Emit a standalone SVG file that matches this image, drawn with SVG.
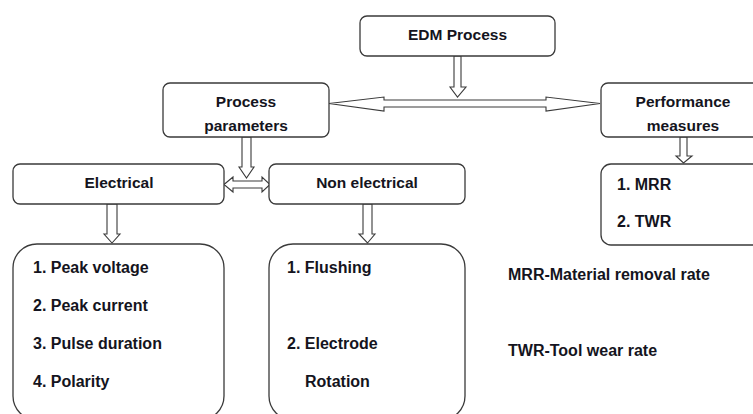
<svg xmlns="http://www.w3.org/2000/svg" width="753" height="414" viewBox="0 0 753 414">
<style>
.box{fill:#fff;stroke:#3a3a3a;stroke-width:1.3}
.arr{fill:#fff;stroke:#3a3a3a;stroke-width:1.1;stroke-linejoin:miter}
.t{font-family:"Liberation Sans",Arial,sans-serif;font-weight:bold;font-size:15.5px;fill:#141420}
.c{text-anchor:middle}
.i{font-family:"Liberation Sans",Arial,sans-serif;font-weight:bold;font-size:16px;fill:#141420}
</style>
<rect width="753" height="414" fill="#fff"/>
<g id="connectors">
<path class="arr" d="M454,56 L461,56 L461,87 L466,87 L457.5,97 L450,87 L454,87 Z"/>
<path class="arr" d="M329,103.5 L384,97 L384,100 L546,100 L546,97 L600,103.5 L546,111 L546,107 L384,107 L384,111 Z"/>
<path class="arr" d="M680,137 L687,137 L687,156 L692,156 L683.5,163 L676,156 L680,156 Z"/>
<path class="arr" d="M242,137 L251,137 L251,167 L254,167 L246.5,178 L239,167 L242,167 Z"/>
<path class="arr" d="M224,184.5 L233,177 L233,181 L262,181 L262,177 L270,184.5 L262,192 L262,188 L233,188 L233,192 Z"/>
<path class="arr" d="M107,204 L117,204 L117,234 L120,234 L112,243 L104,234 L107,234 Z"/>
<path class="arr" d="M363,204 L372,204 L372,234 L375,234 L367.5,243 L359,234 L363,234 Z"/>
</g>
<g id="edm">
<rect class="box" x="360" y="16" width="195" height="40" rx="7"/>
<text class="t c" x="457.5" y="40">EDM Process</text>
</g>
<g id="process-parameters">
<rect class="box" x="163" y="83" width="166" height="54" rx="7"/>
<text class="t c" x="246" y="107">Process</text>
<text class="t c" x="246" y="131">parameters</text>
</g>
<g id="performance-measures">
<rect class="box" x="601" y="83" width="170" height="54" rx="7"/>
<text class="t c" x="683" y="107">Performance</text>
<text class="t c" x="683" y="131">measures</text>
</g>
<g id="measures-list">
<rect class="box" x="601" y="164" width="170" height="81" rx="10"/>
<text class="i" x="617" y="190">1. MRR</text>
<text class="i" x="617" y="227">2. TWR</text>
</g>
<g id="electrical">
<rect class="box" x="13" y="164" width="211" height="40" rx="7"/>
<text class="t c" x="119" y="188">Electrical</text>
</g>
<g id="non-electrical">
<rect class="box" x="269" y="164" width="196" height="40" rx="7"/>
<text class="t c" x="367" y="188">Non electrical</text>
</g>
<g id="electrical-list">
<rect class="box" x="13" y="244" width="211" height="176" rx="24"/>
<text class="i" x="33" y="273">1. Peak voltage</text>
<text class="i" x="33" y="311">2. Peak current</text>
<text class="i" x="33" y="349">3. Pulse duration</text>
<text class="i" x="33" y="387">4. Polarity</text>
</g>
<g id="non-electrical-list">
<rect class="box" x="269" y="244" width="196" height="176" rx="24"/>
<text class="i" x="287" y="273">1. Flushing</text>
<text class="i" x="287" y="349">2. Electrode</text>
<text class="i" x="305" y="387">Rotation</text>
</g>
<g id="legend">
<text class="i" x="508" y="280">MRR-Material removal rate</text>
<text class="i" x="508" y="356">TWR-Tool wear rate</text>
</g>
</svg>
